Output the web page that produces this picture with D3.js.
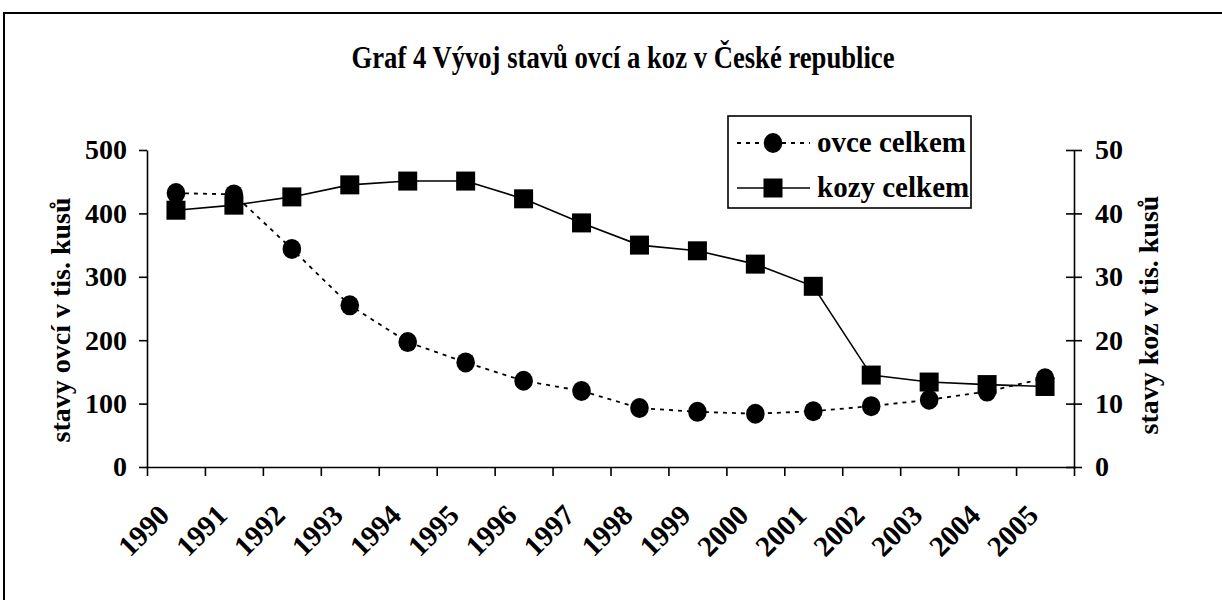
<!DOCTYPE html>
<html>
<head>
<meta charset="utf-8">
<script src="https://cdn.jsdelivr.net/npm/d3@7"></script>
<style>
  body { margin: 0; background: #fff; }
  text { font-family: "Liberation Serif", "Times New Roman", serif; font-weight: bold; fill: #000; }
</style>
</head>
<body>
<script>
// data
var years = ["1990", "1991", "1992", "1993", "1994", "1995", "1996", "1997",
  "1998", "1999", "2000", "2001", "2002", "2003", "2004", "2005"];
var ovce = [432, 430, 344, 255, 197, 165, 136, 120, 93, 87, 84, 88, 96, 106, 119, 140];
var kozy = [40.5, 41.3, 42.6, 44.5, 45.1, 45.1, 42.3, 38.5, 35.0, 34.1, 32.0, 28.5, 14.5, 13.4, 13.0, 12.7];
var leftTicks = [0, 100, 200, 300, 400, 500];
var rightTicks = [0, 10, 20, 30, 40, 50];

var width = 1222,
  height = 600;
var margin = { top: 150, bottom: 133, left: 147, right: 148 };
var fontSize = 28;

var svg = d3.select('body')
  .append('svg')
  .attr('width', width)
  .attr('height', height)
  .style('background', '#fff');

// outer frame (right and bottom edges fall outside the picture)
svg.append('rect')
  .attr('x', 4).attr('y', 13)
  .attr('width', width + 20).attr('height', height + 20)
  .attr('fill', 'none').attr('stroke', '#000').attr('stroke-width', 2);

// title
svg.append('text')
  .attr('x', 623).attr('y', 68)
  .attr('text-anchor', 'middle')
  .attr('textLength', 543)
  .attr('lengthAdjust', 'spacingAndGlyphs')
  .style('font-size', '31px')
  .text('Graf 4 Vývoj stavů ovcí a koz v České  republice');

// scales
var xScale = d3.scaleBand()
  .domain(years)
  .range([margin.left, width - margin.right])
  .padding(0);
var xEdge = d3.scaleLinear()
  .domain([0, years.length])
  .range([margin.left, width - margin.right]);
var yLeft = d3.scaleLinear()
  .domain([0, 500])
  .range([height - margin.bottom, margin.top]);
var yRight = d3.scaleLinear()
  .domain([0, 50])
  .range([height - margin.bottom, margin.top]);

function cx(i) { return xScale(years[i]) + xScale.bandwidth() / 2; }

// x axis: ticks on band edges, labels rotated separately
var xAxis = svg.append('g')
  .attr('transform', `translate(0,${height - margin.bottom})`)
  .call(d3.axisBottom(xEdge).tickValues(d3.range(years.length + 1)).tickFormat('').tickSize(9).tickSizeOuter(0));

svg.append('g').selectAll('.xlab')
  .data(years)
  .enter()
  .append('text')
  .attr('class', 'xlab')
  .attr('text-anchor', 'end')
  .attr('transform', function(d) {
    return `translate(${xScale(d) + xScale.bandwidth() / 2 - 5},${height - margin.bottom + 50}) rotate(-45)`;
  })
  .style('font-size', '29px')
  .text(function(d) { return d; });

// left axis
var leftAxis = svg.append('g')
  .attr('transform', `translate(${margin.left},0)`)
  .call(d3.axisLeft(yLeft).tickValues(leftTicks).tickSize(8).tickSizeOuter(0).tickPadding(12));

// right axis, ticks crossing the line
var rightAxis = svg.append('g')
  .attr('transform', `translate(${width - margin.right},0)`)
  .call(d3.axisRight(yRight).tickValues(rightTicks).tickSize(8).tickSizeOuter(0).tickPadding(13));
rightAxis.selectAll('.tick line').attr('x1', -8).attr('x2', 8);

svg.selectAll('.domain, .tick line').attr('stroke', '#000').attr('stroke-width', 1.6);
svg.selectAll('.tick text')
  .style('font-size', fontSize + 'px')
  .style('font-family', '"Liberation Serif", "Times New Roman", serif')
  .style('font-weight', 'bold')
  .attr('fill', '#000');

// axis titles
svg.append('text')
  .attr('transform', 'translate(70,320) rotate(-90)')
  .attr('text-anchor', 'middle')
  .style('font-size', fontSize + 'px')
  .text('stavy ovcí v tis. kusů');
svg.append('text')
  .attr('transform', 'translate(1158,315) rotate(-90)')
  .attr('text-anchor', 'middle')
  .style('font-size', fontSize + 'px')
  .text('stavy koz v tis. kusů');

// ovce line (dotted) + circles
var ovceLine = d3.line()
  .x(function(d, i) { return cx(i); })
  .y(function(d) { return yLeft(d); });
svg.append('path')
  .datum(ovce)
  .attr('d', ovceLine)
  .attr('fill', 'none')
  .attr('stroke', '#000')
  .attr('stroke-width', 1.8)
  .attr('stroke-dasharray', '4,5');

// kozy line (solid) + squares
var kozyLine = d3.line()
  .x(function(d, i) { return cx(i); })
  .y(function(d) { return yRight(d); });
svg.append('path')
  .datum(kozy)
  .attr('d', kozyLine)
  .attr('fill', 'none')
  .attr('stroke', '#000')
  .attr('stroke-width', 1.6);

svg.selectAll('.sq')
  .data(kozy)
  .enter()
  .append('rect')
  .attr('class', 'sq')
  .attr('x', function(d, i) { return cx(i) - 9.5; })
  .attr('y', function(d) { return yRight(d) - 9.5; })
  .attr('width', 19)
  .attr('height', 19)
  .attr('fill', '#000');

svg.selectAll('.dot')
  .data(ovce)
  .enter()
  .append('ellipse')
  .attr('class', 'dot')
  .attr('cx', function(d, i) { return cx(i); })
  .attr('cy', function(d) { return yLeft(d); })
  .attr('rx', 9.3)
  .attr('ry', 10)
  .attr('fill', '#000');

// Handmade legend
svg.append('rect').attr('x', 728).attr('y', 116).attr('width', 243).attr('height', 92)
  .attr('fill', '#fff').attr('stroke', '#000').attr('stroke-width', 1.6);
svg.append('line').attr('x1', 737).attr('x2', 810).attr('y1', 143).attr('y2', 143)
  .attr('stroke', '#000').attr('stroke-width', 1.8).attr('stroke-dasharray', '4,5');
svg.append('ellipse').attr('cx', 773).attr('cy', 143).attr('rx', 9.3).attr('ry', 10).attr('fill', '#000');
svg.append('line').attr('x1', 737).attr('x2', 810).attr('y1', 188).attr('y2', 188)
  .attr('stroke', '#000').attr('stroke-width', 1.6);
svg.append('rect').attr('x', 763.5).attr('y', 178.5).attr('width', 19).attr('height', 19).attr('fill', '#000');
svg.append('text').attr('x', 817).attr('y', 152).style('font-size', '29px').text('ovce celkem');
svg.append('text').attr('x', 817).attr('y', 197).style('font-size', '29px').text('kozy celkem');
</script>
</body>
</html>
